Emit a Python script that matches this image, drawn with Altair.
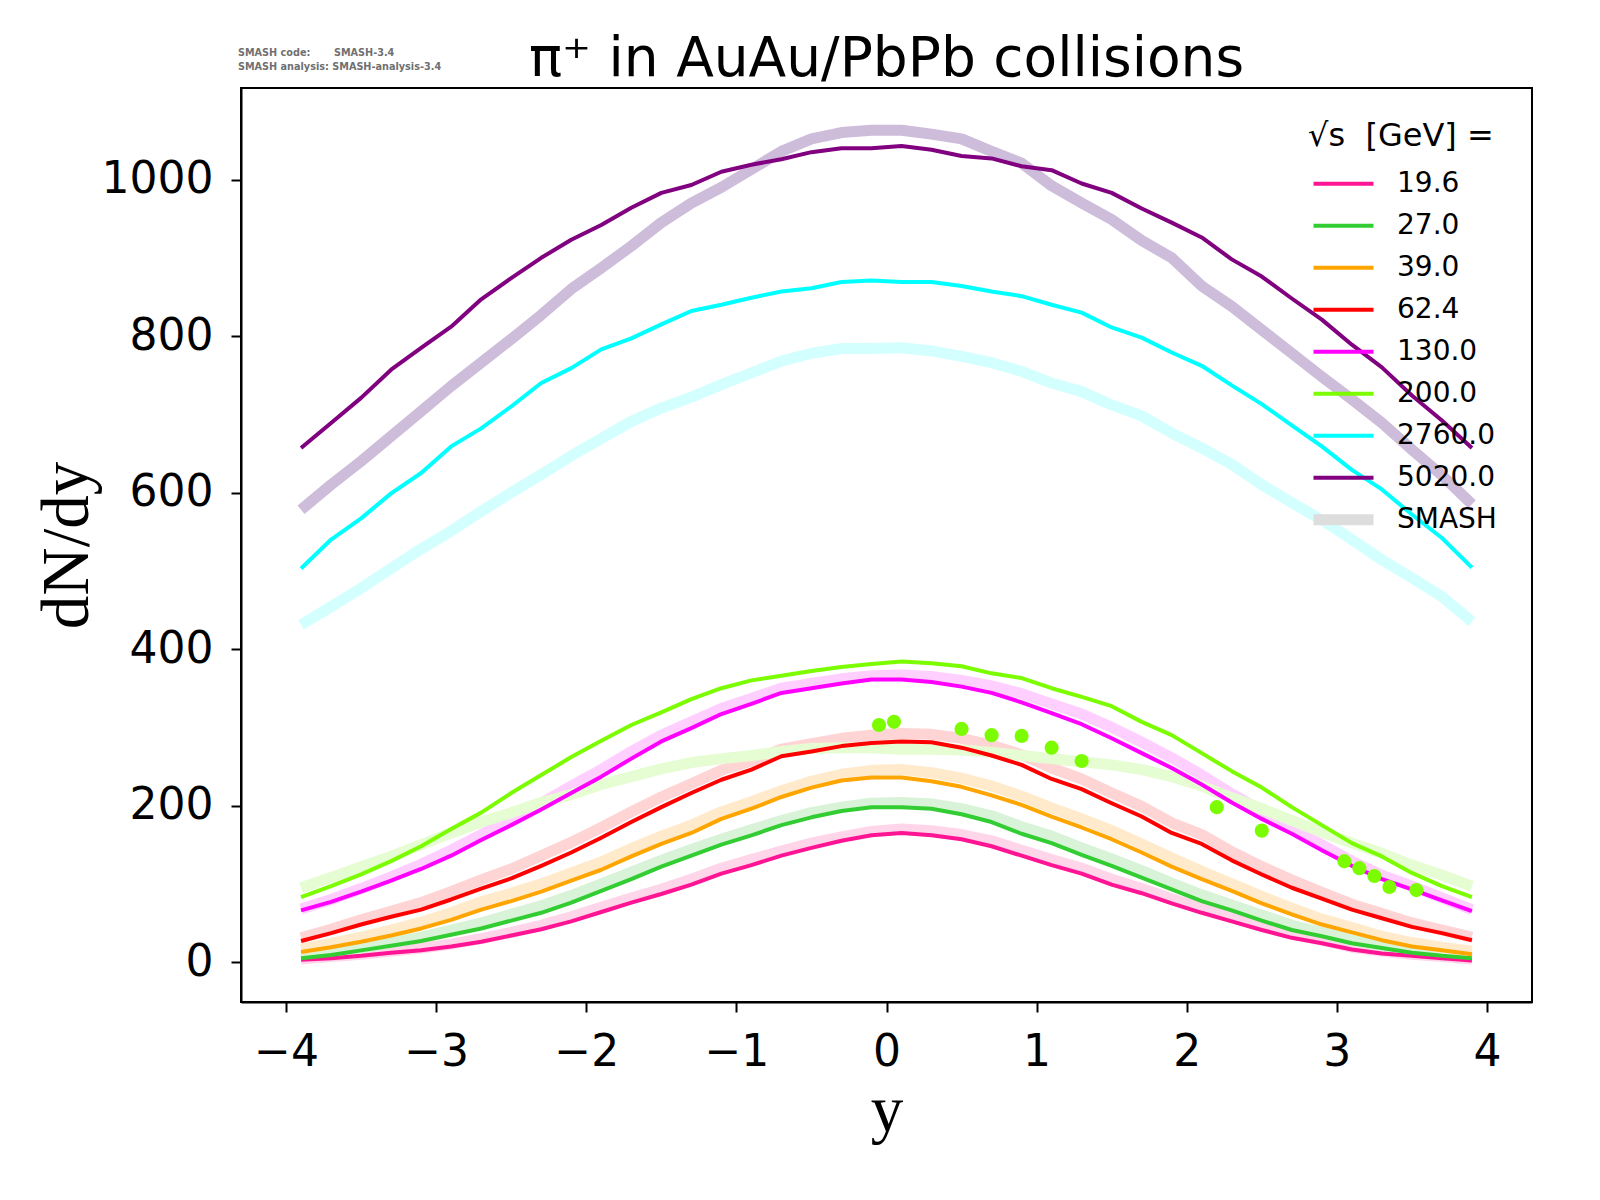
import altair as alt
import pandas as pd

# rapidity grid
y_grid = [-3.9, -3.7, -3.5, -3.3, -3.1, -2.9, -2.7, -2.5, -2.3, -2.1,
          -1.9, -1.7, -1.5, -1.3, -1.1, -0.9, -0.7, -0.5, -0.3, -0.1,
          0.1, 0.3, 0.5, 0.7, 0.9, 1.1, 1.3, 1.5, 1.7, 1.9,
          2.1, 2.3, 2.5, 2.7, 2.9, 3.1, 3.3, 3.5, 3.7, 3.9]

energies = ["19.6", "27.0", "39.0", "62.4", "130.0", "200.0", "2760.0", "5020.0"]
line_colors = ["#FF1493", "#32CD32", "#FFA500", "#FF0000", "#FF00FF", "#7CFC00", "#00FFFF", "#800080"]
smash_colors = ["#FFD5EA", "#D9F3D9", "#FFEBCC", "#FFD4D4", "#FFD0FF", "#E6FDD3", "#D4FFFF", "#CDBCDA"]

# thin curves
ref_196 = [3, 5, 8, 12, 15, 20, 26, 34, 42, 52, 64, 76, 87, 99, 113, 124, 136, 146, 155, 162,
           165, 162, 157, 148, 136, 124, 113, 99, 88, 75, 63, 52, 41, 31, 24, 16, 11, 8, 5, 2]
ref_270 = [5, 9, 15, 21, 27, 35, 43, 53, 63, 76, 91, 106, 122, 136, 150, 162, 175, 185, 193, 198,
           198, 196, 189, 179, 164, 152, 137, 123, 108, 93, 78, 66, 53, 41, 33, 24, 18, 12, 8, 5]
ref_390 = [13, 19, 26, 34, 43, 54, 67, 78, 90, 104, 118, 135, 151, 165, 183, 196, 211, 223, 232, 236,
           236, 231, 224, 213, 201, 186, 172, 157, 140, 122, 106, 91, 75, 61, 48, 38, 28, 20, 15, 10]
ref_624 = [27, 37, 48, 58, 67, 80, 94, 107, 123, 140, 159, 179, 198, 216, 233, 246, 263, 269, 276, 280,
           282, 281, 274, 264, 252, 234, 221, 203, 186, 165, 151, 130, 112, 95, 81, 67, 56, 45, 37, 28]
ref_1300 = [66, 77, 90, 104, 119, 136, 156, 175, 195, 216, 237, 260, 282, 299, 317, 330, 344, 350, 356, 361,
            361, 358, 352, 344, 332, 318, 304, 286, 267, 248, 227, 204, 183, 164, 143, 123, 106, 93, 79, 65]
ref_2000 = [83, 97, 112, 129, 148, 170, 191, 216, 239, 262, 283, 303, 319, 336, 350, 360, 366, 372, 377, 381,
            384, 382, 378, 369, 363, 350, 339, 327, 307, 290, 267, 244, 223, 198, 175, 152, 135, 114, 97, 83]
ref_27600 = [503, 540, 567, 599, 625, 659, 682, 710, 740, 759, 783, 797, 815, 832, 840, 849, 857, 861, 869, 871,
             869, 869, 864, 857, 851, 840, 830, 811, 798, 779, 762, 737, 713, 686, 659, 629, 604, 572, 542, 504]
ref_50200 = [657, 689, 721, 757, 785, 812, 847, 874, 900, 923, 942, 964, 983, 993, 1010, 1019, 1026, 1035, 1040, 1040,
             1043, 1038, 1030, 1027, 1017, 1012, 995, 983, 963, 945, 926, 898, 876, 848, 821, 789, 760, 724, 692, 657]

# SMASH curves
sm_196 = [4, 7, 10, 14, 18, 23, 30, 38, 47, 58, 70, 82, 93, 106, 120, 131, 142, 152, 160, 167,
          170, 168, 163, 155, 143, 131, 120, 106, 94, 81, 69, 58, 47, 36, 28, 19, 14, 10, 7, 4]
sm_270 = [7, 12, 18, 25, 32, 41, 50, 61, 72, 85, 100, 115, 130, 144, 157, 169, 181, 191, 198, 203,
          204, 202, 196, 187, 173, 161, 146, 132, 117, 101, 86, 73, 60, 47, 38, 28, 21, 15, 10, 7]
sm_390 = [17, 24, 32, 41, 51, 63, 77, 88, 100, 114, 128, 145, 161, 175, 192, 205, 219, 231, 240, 245,
          246, 242, 235, 225, 212, 197, 183, 168, 151, 133, 116, 100, 84, 69, 55, 44, 33, 25, 19, 14]
sm_624 = [31, 42, 54, 65, 76, 90, 105, 119, 136, 153, 172, 192, 211, 228, 245, 257, 272, 279, 286, 290,
          292, 291, 286, 277, 265, 248, 234, 216, 199, 178, 163, 141, 122, 105, 89, 74, 62, 50, 41, 32]
sm_1300 = [68, 80, 94, 109, 125, 143, 163, 183, 203, 225, 246, 269, 290, 307, 324, 337, 350, 356, 362, 366,
           367, 365, 360, 353, 343, 330, 317, 300, 281, 261, 239, 215, 193, 172, 150, 129, 111, 97, 82, 67]
sm_2000 = [95, 108, 122, 135, 150, 165, 179, 191, 204, 214, 227, 237, 247, 255, 260, 264, 269, 273, 274, 274,
           272, 272, 271, 268, 264, 260, 256, 252, 246, 237, 225, 210, 196, 181, 166, 152, 139, 124, 111, 97]
sm_27600 = [431, 454, 478, 503, 528, 551, 576, 600, 623, 647, 669, 691, 708, 722, 738, 753, 768, 778, 784, 784,
            785, 781, 774, 766, 755, 740, 729, 712, 698, 676, 657, 636, 610, 587, 565, 540, 514, 491, 467, 435]
sm_50200 = [578, 610, 640, 672, 704, 736, 766, 796, 827, 860, 887, 915, 945, 970, 990, 1013, 1036, 1052, 1060, 1063,
            1063, 1058, 1052, 1036, 1021, 992, 970, 949, 922, 900, 864, 838, 808, 778, 748, 719, 689, 655, 622, 585]

# measured points at 200 GeV
pts_y = [-0.05, 0.05, 0.5, 0.7, 0.9, 1.1, 1.3, 2.2, 2.5, 3.05, 3.15, 3.25, 3.35, 3.53]
pts_v = [303, 307, 298, 290, 289, 274, 257, 198, 168, 129, 120, 110, 96, 92]

title_text = "\u03c0\u207a in AuAu/PbPb collisions"
note_lines = ["SMASH code:\u00a0\u00a0\u00a0\u00a0\u00a0\u00a0 SMASH-3.4", "SMASH analysis: SMASH-analysis-3.4"]

ref_series = [ref_196, ref_270, ref_390, ref_624, ref_1300, ref_2000, ref_27600, ref_50200]
sm_series = [sm_196, sm_270, sm_390, sm_624, sm_1300, sm_2000, sm_27600, sm_50200]

rows_ref, rows_sm = [], []
for e, vals in zip(energies, ref_series):
    for i, (yy, v) in enumerate(zip(y_grid, vals)):
        rows_ref.append({"y": yy, "v": v, "label": e, "i": i})
for e, vals in zip(energies, sm_series):
    for i, (yy, v) in enumerate(zip(y_grid, vals)):
        rows_sm.append({"y": yy, "v": v, "energy": e, "i": i})
df_ref = pd.DataFrame(rows_ref)
df_sm = pd.DataFrame(rows_sm)
df_pts = pd.DataFrame({"y": pts_y, "v": pts_v})

legend_domain = energies + ["SMASH"]
legend_range = line_colors + ["#DDDDDD"]
width_range = [4] * 8 + [11]

xs = alt.Scale(domain=[-4.3, 4.3], nice=False, zero=False)
ys = alt.Scale(domain=[-51, 1117], nice=False, zero=False)

x_axis = alt.Axis(values=[-4, -3, -2, -1, 0, 1, 2, 3, 4], format="d",
                  labelExpr="replace(datum.label, '-', '\u2212')",
                  title="y", grid=False)
y_axis = alt.Axis(values=[0, 200, 400, 600, 800, 1000], format="d", title="dN/dy", grid=False)

smash = alt.Chart(df_sm).mark_line(strokeJoin="round", strokeCap="butt", strokeWidth=11).encode(
    x=alt.X("y:Q", scale=xs, axis=x_axis),
    y=alt.Y("v:Q", scale=ys, axis=y_axis),
    color=alt.Color("energy:N", scale=alt.Scale(domain=energies, range=smash_colors), legend=None),
    order="i:Q",
)

thin = alt.Chart(df_ref).mark_line(strokeJoin="round", strokeCap="butt").encode(
    x=alt.X("y:Q", scale=xs),
    y=alt.Y("v:Q", scale=ys),
    color=alt.Color("label:N", scale=alt.Scale(domain=legend_domain, range=legend_range),
                    legend=alt.Legend(title="\u221as\u00a0\u00a0[GeV] =", orient="none", legendX=1067, legendY=33,
                                      symbolType="stroke", symbolSize=3600, clipHeight=41.5,
                                      rowPadding=0, labelOffset=18, titlePadding=10, padding=0,
                                      labelFontSize=28, titleFontSize=32, titleFontWeight="normal",
                                      titleLimit=500, labelLimit=300,
                                      labelFont="DejaVu Sans", titleFont="DejaVu Sans",
                                      labelColor="black", titleColor="black", symbolOpacity=1)),
    strokeWidth=alt.StrokeWidth("label:N", scale=alt.Scale(type="ordinal", domain=legend_domain, range=width_range)),
    order="i:Q",
)

points = alt.Chart(df_pts).mark_circle(size=200, opacity=1, color="#7CFC00").encode(
    x=alt.X("y:Q", scale=xs),
    y=alt.Y("v:Q", scale=ys),
)

one_row = pd.DataFrame({"a": [0]})
note = alt.Chart(one_row).mark_text(
    align="left", baseline="middle", font="DejaVu Sans", fontSize=9.7, fontWeight="bold",
    color="#707070", lineHeight=13.5,
).encode(
    x=alt.value(-3), y=alt.value(-35),
    text=alt.value(note_lines),
)

title = alt.Chart(one_row).mark_text(
    align="center", baseline="alphabetic", font="DejaVu Sans", fontSize=55, color="black",
).encode(
    x=alt.value(645.5), y=alt.value(-12), text=alt.value(title_text),
)

chart = alt.layer(smash, thin, points, note, title).resolve_scale(
    color="independent", strokeWidth="independent"
).properties(
    width=1291, height=914,
    autosize=alt.AutoSizeParams(type="none"),
    padding={"left": 233, "top": 80, "right": 52, "bottom": 150},
).configure_view(
    stroke="black", strokeWidth=2
).configure_axis(
    labelFont="DejaVu Sans", labelFontSize=44, labelColor="black", labelPadding=18,
    tickColor="black", tickSize=10, tickWidth=2, domainColor="black", domainWidth=2,
    titleFont="Liberation Serif", titleFontWeight="normal", titleColor="black",
).configure_axisX(titlePadding=5, titleFontSize=65).configure_axisY(titlePadding=0, titleFontSize=67)

chart.save("out.html", embed_options={"renderer": "svg", "actions": False})
